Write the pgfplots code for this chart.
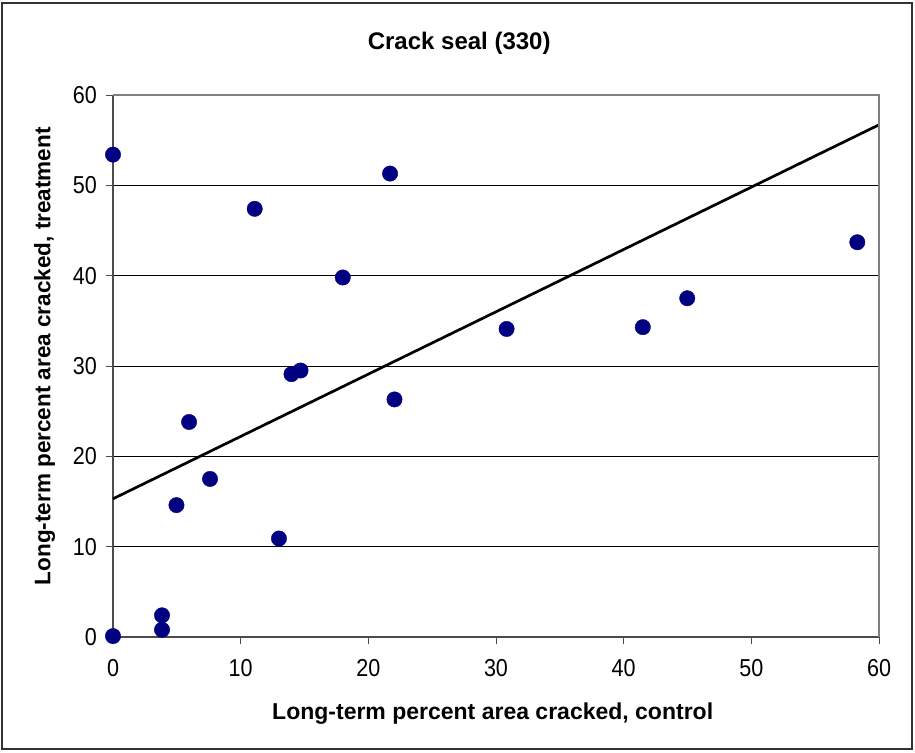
\documentclass[border=0pt]{standalone}
\usepackage{fontspec}
\setmainfont{Liberation Sans}
\newfontfamily\tickfont[FakeStretch=0.88]{Liberation Sans}
\usepackage{pgfplots}
\pgfplotsset{compat=1.18}
\definecolor{dotblue}{RGB}{0,0,128}

% control vs. treatment, long-term percent area cracked
\pgfplotstableread{
x     y
0     53.4
0     0.1
3.84  2.4
3.84  0.8
4.97  14.6
5.96  23.8
7.6   17.5
11.1  47.4
13.0  10.9
13.98 29.1
14.69 29.5
18.0  39.8
21.7  51.3
22.05 26.3
30.83 34.1
41.5  34.3
44.98 37.5
58.3  43.7
}\crackdata

\begin{document}
\begin{tikzpicture}
\useasboundingbox (-113pt,-115pt) rectangle (802pt,637pt);
\draw[line width=1.5pt, black!80] (-111pt,-112pt) rectangle (799pt,634pt);
\begin{axis}[
  at={(0pt,0pt)}, anchor=south west,
  scale only axis, width=766pt, height=542pt,
  xmin=0, xmax=60, ymin=0, ymax=60,
  xtick={0,10,...,60}, ytick={0,10,...,60},
  axis x line*=bottom, axis y line*=left,
  axis line style={-, line width=1.3pt, black!70},
  tick align=outside, major tick length=6.6pt,
  tick style={line width=1pt, black!70},
  ymajorgrids, grid style={line width=1pt, black},
  clip=false,
  /pgf/number format/assume math mode=true,
  ticklabel style={font=\tickfont\fontsize{24.5}{28}\selectfont},
  xticklabel style={yshift=-12pt},
  yticklabel style={xshift=-6pt},
  title={Crack seal (330)},
  title style={at={(rel axis cs:0.452,1.0725)}, anchor=base,
    font=\bfseries\fontsize{24}{28}\selectfont},
  xlabel={Long-term percent area cracked, control},
  xlabel style={at={(rel axis cs:0.4957,-0.1518)}, anchor=base,
    font=\bfseries\fontsize{23}{26}\selectfont},
  ylabel={Long-term percent area cracked, treatment},
  ylabel style={at={(rel axis cs:-0.0818,0.518)}, anchor=base,
    font=\bfseries\fontsize{22.5}{26}\selectfont},
]
\addplot[black, line width=2.7pt, no markers] coordinates {(0,15.3) (60,56.7)};
\addplot[only marks, mark=*, mark size=7.7pt,
  mark options={fill=dotblue, draw=dotblue}] table[x=x, y=y] {\crackdata};
\draw[line width=1.3pt, gray] (rel axis cs:0,1) -- (rel axis cs:1,1) -- (rel axis cs:1,0);
\end{axis}
\end{tikzpicture}
\end{document}
